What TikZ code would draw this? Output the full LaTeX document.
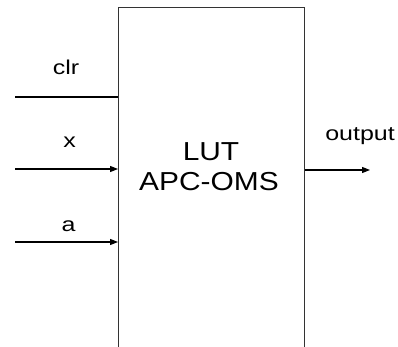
\documentclass[tikz,border=0pt]{standalone}
\usepackage{fontspec}
\setmainfont{Liberation Sans}
\usetikzlibrary{arrows.meta}
\begin{document}
\begin{tikzpicture}[x=1pt,y=-1pt,
  wire/.style={line width=1.1pt,black},
  arr/.style={wire,-{Triangle[length=8pt,width=6pt]}},
  lbl/.style={anchor=base,inner sep=0pt,font=\fontsize{20}{22}\selectfont,xscale=1.25},
  main/.style={anchor=base,inner sep=0pt,font=\fontsize{26}{30}\selectfont,xscale=1.15}]
\useasboundingbox (0,0) rectangle (398,347);
\fill[white] (0,0) rectangle (398,347);
\node[draw=black!80,line width=1.3pt,minimum width=186pt,minimum height=360pt,anchor=north west,inner sep=0pt] (box) at (118,7) {};
\node[main] (lut) at (211,161) {LUT};
\node[main] (apc) at (209,190) {APC-OMS};
\coordinate (clrin) at (15,97);
\coordinate (xin) at (15,169);
\coordinate (ain) at (15,242);
\coordinate (outend) at (370,170);
\draw[wire] (clrin) -- (clrin -| box.west);
\draw[arr] (xin) -- (xin -| box.west);
\draw[arr] (ain) -- (ain -| box.west);
\draw[arr] (outend -| box.east) -- (outend);
\node[lbl] (clr) at (66,75) {clr};
\node[lbl] (xl) at (69.5,148) {x};
\node[lbl] (al) at (68.5,231) {a};
\node[lbl] (out) at (360,141) {output};
\end{tikzpicture}
\end{document}
